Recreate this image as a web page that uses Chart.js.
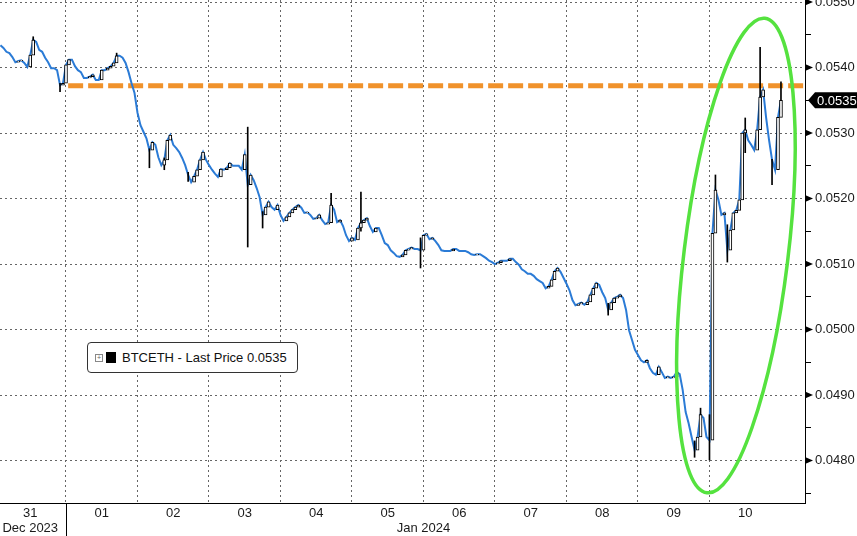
<!DOCTYPE html>
<html>
<head>
<meta charset="utf-8">
<script src="https://cdn.jsdelivr.net/npm/chart.js@4.4.1/dist/chart.umd.min.js"></script>
<style>
  html, body { margin: 0; padding: 0; background: #fff; }
  #wrap { position: relative; width: 857px; height: 536px; }
  #legend {
    position: absolute; left: 87px; top: 342px; width: 211px; height: 31px;
    box-sizing: border-box; border: 1px solid #333; border-radius: 4px; background: #fff;
    font: 13px "Liberation Sans", Arial, sans-serif; color: #111;
    display: flex; align-items: center; padding-left: 7px; white-space: nowrap;
  }
  #legend .plus {
    width: 6px; height: 6px; border: 1px solid #888; margin-right: 3px;
    font-size: 7px; line-height: 6px; text-align: center; color: #666;
  }
  #legend .swatch { width: 10px; height: 11px; background: #000; margin-right: 6px; }
</style>
</head>
<body>
<div id="wrap">
  <canvas id="chart" width="857" height="536"></canvas>
  <div id="legend"><span class="plus">+</span><span class="swatch"></span>BTCETH - Last Price 0.0535</div>
</div>
<script>
// BTCETH hourly closes, first one at 31 Dec 02:00 (hour -22 from 01 Jan 00:00)
const startHour = -22;
const stepHours = 1;
const closes = [
  0.05434, 0.05430, 0.05424, 0.05422, 0.05416, 0.05408, 0.05410, 0.05411, 0.05407, 0.05401, 0.05419,
  0.05442, 0.05439, 0.05427, 0.05424, 0.05415, 0.05408, 0.05399, 0.05399, 0.05396, 0.05373, 0.05376,
  // 01 Jan
  0.05404, 0.05412, 0.05412, 0.05402, 0.05396, 0.05393, 0.05384, 0.05384, 0.05386, 0.05389, 0.05381, 0.05381,
  0.05396, 0.05396, 0.05399, 0.05402, 0.05407, 0.05418, 0.05418, 0.05415, 0.05407, 0.05393, 0.05376, 0.05361,
  // 02 Jan
  0.05331, 0.05312, 0.05302, 0.05292, 0.05274, 0.05286, 0.05282, 0.05263, 0.05251, 0.05259, 0.05289, 0.05297,
  0.05282, 0.05277, 0.05271, 0.05262, 0.05251, 0.05236, 0.05225, 0.05234, 0.05244, 0.05259, 0.05271, 0.05259,
  // 03 Jan
  0.05251, 0.05244, 0.05238, 0.05233, 0.05245, 0.05244, 0.05247, 0.05254, 0.05250, 0.05250, 0.05250, 0.05244,
  0.05267, 0.05221, 0.05236, 0.05228, 0.05216, 0.05202, 0.05175, 0.05187, 0.05195, 0.05187, 0.05183, 0.05190,
  // 04 Jan
  0.05175, 0.05166, 0.05172, 0.05178, 0.05183, 0.05187, 0.05190, 0.05186, 0.05178, 0.05179, 0.05175, 0.05169,
  0.05170, 0.05175, 0.05167, 0.05161, 0.05163, 0.05190, 0.05183, 0.05164, 0.05167, 0.05158, 0.05144, 0.05135,
  // 05 Jan
  0.05140, 0.05137, 0.05155, 0.05163, 0.05167, 0.05170, 0.05158, 0.05149, 0.05155, 0.05155, 0.05144, 0.05132,
  0.05129, 0.05121, 0.05117, 0.05112, 0.05111, 0.05114, 0.05121, 0.05123, 0.05125, 0.05123, 0.05123, 0.05121,
  // 06 Jan
  0.05144, 0.05146, 0.05138, 0.05140, 0.05135, 0.05129, 0.05121, 0.05120, 0.05120, 0.05120, 0.05123, 0.05123,
  0.05120, 0.05120, 0.05120, 0.05118, 0.05115, 0.05114, 0.05115, 0.05115, 0.05112, 0.05109, 0.05105, 0.05103,
  // 07 Jan
  0.05100, 0.05102, 0.05105, 0.05105, 0.05105, 0.05108, 0.05108, 0.05103, 0.05099, 0.05092, 0.05089, 0.05085,
  0.05085, 0.05082, 0.05077, 0.05074, 0.05071, 0.05063, 0.05066, 0.05076, 0.05089, 0.05094, 0.05088, 0.05079,
  // 08 Jan
  0.05070, 0.05060, 0.05045, 0.05037, 0.05039, 0.05041, 0.05038, 0.05042, 0.05053, 0.05063, 0.05071, 0.05068,
  0.05057, 0.05048, 0.05030, 0.05041, 0.05048, 0.05050, 0.05053, 0.05048, 0.05030, 0.04999, 0.04984, 0.04969,
  // 09 Jan
  0.04961, 0.04953, 0.04950, 0.04953, 0.04941, 0.04934, 0.04931, 0.04943, 0.04935, 0.04926, 0.04928, 0.04926,
  0.04928, 0.04935, 0.04932, 0.04908, 0.04874, 0.04857, 0.04836, 0.04816, 0.04836, 0.04870, 0.04865, 0.04836,
  // 10 Jan
  0.04831, 0.05147, 0.05213, 0.05198, 0.05175, 0.05178, 0.05121, 0.05152, 0.05178, 0.05182, 0.05198, 0.05300,
  0.05305, 0.05289, 0.05282, 0.05274, 0.05305, 0.05355, 0.05366, 0.05324, 0.05289, 0.05259, 0.05244, 0.05324,
  0.05350
];

// notable high/low wicks (hour, low, high)
const wickHours = [-11, -2, 17, 28, 33, 41, 61, 66, 89, 99, 119, 182, 211, 213, 216, 218, 222, 228, 233, 237, 240];
const wickLows  = [0.05430, 0.05363, 0.05410, 0.05247, 0.05244, 0.05226, 0.05126, 0.05155, 0.05180, 0.05150, 0.05094,
                   0.05022, 0.04805, 0.04862, 0.04801, 0.05190, 0.05103, 0.05270, 0.05340, 0.05221, 0.05330];
const wickHighs = [0.05447, 0.05376, 0.05422, 0.05276, 0.05262, 0.05240, 0.05309, 0.05180, 0.05208, 0.05210, 0.05140,
                   0.05040, 0.04830, 0.04880, 0.04870, 0.05236, 0.05160, 0.05323, 0.05431, 0.05260, 0.05378];

const markLevel = 0.05372;   // orange dashed level
const markFrom = 0.03;       // day where the dashed level starts
const lastPrice = 0.0535;

const dayTicks = [-0.5, 0.5, 1.5, 2.5, 3.5, 4.5, 5.5, 6.5, 7.5, 8.5, 9.5];
const dayLabels = ['31', '01', '02', '03', '04', '05', '06', '07', '08', '09', '10'];
const monthTicks = [-0.5, 5];
const monthLabels = ['Dec 2023', 'Jan 2024'];
const dayBounds = [0, 1, 2, 3, 4, 5, 6, 7, 8, 9];
const yTicks = [0.0475, 0.0480, 0.0485, 0.0490, 0.0495, 0.0500, 0.0505, 0.0510, 0.0515, 0.0520,
                0.0525, 0.0530, 0.0535, 0.0540, 0.0545, 0.0550];

const xMin = -0.923, xMax = 10.336;
const yMin = 0.047352, yMax = 0.055031;

const toDay = h => h / 24;
const linePts = closes.map((c, i) => ({ x: toDay(startHour + i * stepHours), y: c }));
const upBodies = [];
closes.forEach((c, i) => {
  if (i > 0 && c > closes[i - 1]) upBodies.push({ x: linePts[i].x, y: [closes[i - 1], c] });
});
const wicks = wickHours.map((h, i) => ({ x: toDay(h), y: [wickLows[i], wickHighs[i]] }));

const isMajor = v => Math.abs(v * 1000 - Math.round(v * 1000)) < 1e-6;
const font = { family: '"Liberation Sans", Arial, sans-serif', size: 13, lineHeight: 1.15 };

const decorations = {
  id: 'decorations',
  afterDatasetsDraw(chart) {
    const { ctx, scales: { x, y } } = chart;
    // green ellipse round the 09-10 Jan spike
    ctx.save();
    ctx.strokeStyle = '#55e23f';
    ctx.lineWidth = 3.5;
    ctx.beginPath();
    ctx.ellipse(x.getPixelForValue(9.37), y.getPixelForValue(0.05113), 52, 239, 0.1215, 0, Math.PI * 2);
    ctx.stroke();
    ctx.restore();
  },
  afterDraw(chart) {
    const { ctx, chartArea, scales: { x, y } } = chart;
    ctx.save();
    // major tick triangles on the right axis
    ctx.fillStyle = '#000';
    yTicks.filter(isMajor).forEach(v => {
      const py = y.getPixelForValue(v);
      ctx.beginPath();
      ctx.moveTo(chartArea.right, py - 3.5);
      ctx.lineTo(chartArea.right + 8, py);
      ctx.lineTo(chartArea.right, py + 3.5);
      ctx.closePath();
      ctx.fill();
    });
    // last price tag
    const py = y.getPixelForValue(lastPrice);
    const left = chartArea.right + 3;
    ctx.beginPath();
    ctx.moveTo(left, py);
    ctx.lineTo(left + 7, py - 8);
    ctx.lineTo(chart.width, py - 8);
    ctx.lineTo(chart.width, py + 8);
    ctx.lineTo(left + 7, py + 8);
    ctx.closePath();
    ctx.fill();
    ctx.fillStyle = '#fff';
    ctx.font = '13px "Liberation Sans", Arial, sans-serif';
    ctx.textBaseline = 'middle';
    ctx.fillText(lastPrice.toFixed(4), left + 9, py + 1);
    // year separator under the axis
    const sx = Math.round(x.getPixelForValue(0)) + 0.5;
    ctx.strokeStyle = '#000';
    ctx.lineWidth = 1;
    ctx.beginPath();
    ctx.moveTo(sx, chartArea.bottom);
    ctx.lineTo(sx, chart.height);
    ctx.stroke();
    ctx.restore();
  }
};

new Chart(document.getElementById('chart'), {
  type: 'bar',
  data: {
    datasets: [
      {
        type: 'line', label: 'level', data: [{ x: markFrom, y: markLevel }, { x: xMax, y: markLevel }],
        borderColor: '#f0922b', borderWidth: 5, borderDash: [15, 5], pointRadius: 0,
        xAxisID: 'x', yAxisID: 'y', order: 4
      },
      {
        type: 'line', label: 'BTCETH', data: linePts,
        borderColor: '#2b7bd6', borderWidth: 2, pointRadius: 0, tension: 0,
        xAxisID: 'x', yAxisID: 'y', order: 3
      },
      {
        label: 'wicks', data: wicks, backgroundColor: '#000', borderWidth: 0,
        barThickness: 1, grouped: false, xAxisID: 'x', yAxisID: 'y', order: 2
      },
      {
        label: 'up', data: upBodies, backgroundColor: '#fff', borderColor: '#000', borderWidth: 1,
        borderSkipped: false, barThickness: 3, grouped: false, xAxisID: 'x', yAxisID: 'y', order: 1
      }
    ]
  },
  options: {
    responsive: false,
    animation: false,
    devicePixelRatio: 1,
    layout: { padding: 0 },
    plugins: { legend: { display: false }, tooltip: { enabled: false } },
    scales: {
      x: {
        type: 'linear', position: 'bottom', min: xMin, max: xMax, bounds: 'data', offset: false,
        afterBuildTicks: s => { s.ticks = dayBounds.map(v => ({ value: v })); },
        afterFit: s => { s.height = 0; s.paddingLeft = 0; s.paddingRight = 0; },
        ticks: { display: false },
        grid: { color: '#666', lineWidth: 1, drawTicks: false, offset: false },
        border: { display: false, dash: [2, 3] }
      },
      xl: {
        type: 'linear', axis: 'x', position: 'bottom', min: xMin, max: xMax, bounds: 'data', offset: false,
        afterBuildTicks: s => {
          s.ticks = [...new Set([...dayTicks, ...monthTicks])].sort((a, b) => a - b).map(v => ({ value: v }));
        },
        afterFit: s => { s.height = 33; s.paddingLeft = 0; s.paddingRight = 0; },
        ticks: {
          autoSkip: false, maxRotation: 0, padding: 3, color: '#1a1a1a', font,
          callback: v => {
            const d = dayTicks.indexOf(v);
            const m = monthTicks.indexOf(v);
            if (m >= 0) return [d >= 0 ? dayLabels[d] : '', monthLabels[m]];
            return d >= 0 ? dayLabels[d] : '';
          }
        },
        grid: { display: false, drawTicks: false },
        border: { display: true, color: '#000', width: 1 }
      },
      y: {
        type: 'linear', position: 'right', min: yMin, max: yMax, bounds: 'data', beginAtZero: false,
        afterBuildTicks: s => { s.ticks = yTicks.map(v => ({ value: v })); },
        afterFit: s => { s.width = 52; s.paddingTop = 0; s.paddingBottom = 0; },
        ticks: {
          padding: 4, color: '#1a1a1a', font,
          callback: v => isMajor(v) ? v.toFixed(4) : ''
        },
        grid: {
          color: c => (c.tick && isMajor(c.tick.value)) ? '#666' : 'rgba(0,0,0,0)',
          lineWidth: 1, drawTicks: true, tickLength: 6,
          tickColor: c => (c.tick && isMajor(c.tick.value)) ? 'rgba(0,0,0,0)' : '#000'
        },
        border: { display: true, color: '#000', width: 1, dash: [2, 3] }
      }
    }
  },
  plugins: [decorations]
});
</script>
</body>
</html>
